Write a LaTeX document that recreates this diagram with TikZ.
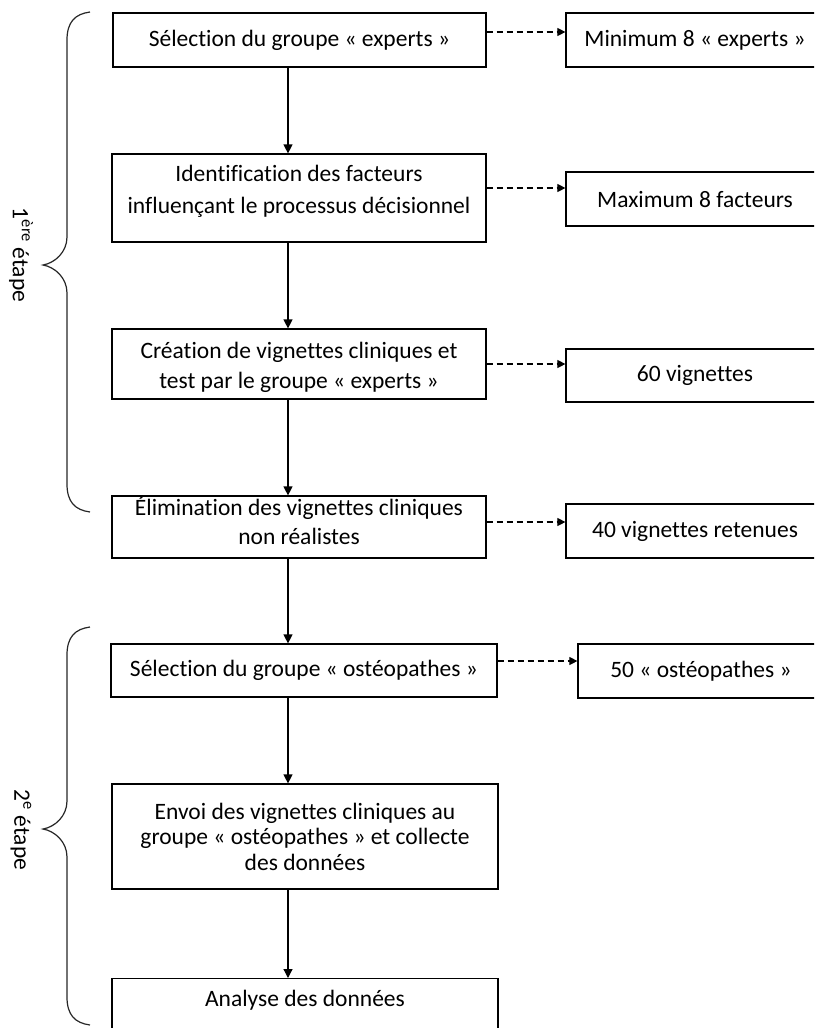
\documentclass[tikz,border=0pt]{standalone}
\usepackage{fontspec}
\setmainfont{Carlito}[Ligatures={NoCommon}]
\usetikzlibrary{arrows.meta}
\tikzset{
  box/.style={draw=black, line width=1.2pt, inner sep=2pt, align=center, text=black,
    font=\fontsize{23.5}{30}\selectfont},
  flow/.style={line width=1.2pt, -{Triangle[length=9pt,width=9pt]}},
  side/.style={line width=1.1pt, dash pattern=on 6pt off 4pt, -{Triangle[length=8pt,width=8pt]}},
  brace/.style={line width=1.2pt, draw=black!85},
  steplabel/.style={rotate=-90, font=\fontsize{23.5}{28}\selectfont, text=black}
}
\begin{document}
\begin{tikzpicture}[x=1pt,y=-1pt]
\useasboundingbox (0,0) rectangle (814,1028);
\clip (0,0) rectangle (814,1028);

% main column
\node[box, minimum width=373pt, minimum height=54pt] (b1) at (299.5,40) {Sélection du groupe « experts »};
\node[box, minimum width=374pt, minimum height=88pt, font=\fontsize{23.5}{32}\selectfont] (b2) at (299,198) {\raisebox{1pt}[32pt][32pt]{\begin{tabular}{@{}c@{}}Identification des facteurs\\influençant le processus décisionnel\end{tabular}}};
\node[box, minimum width=374pt, minimum height=70pt] (b3) at (299,364) {\raisebox{-10pt}[30pt][30pt]{\begin{tabular}{@{}c@{}}Création de vignettes cliniques et\\test par le groupe « experts »\end{tabular}}};
\node[box, minimum width=374pt, minimum height=60pt, font=\fontsize{23.5}{29}\selectfont] (b4) at (299,527) {\raisebox{-3.5pt}[29pt][29pt]{\begin{tabular}{@{}c@{}}Élimination des vignettes cliniques\\non réalistes\end{tabular}}};
\node[box, minimum width=386pt, minimum height=53pt] (b5) at (304,670.5) {Sélection du groupe « ostéopathes »};
\node[box, minimum width=386pt, minimum height=105pt, font=\fontsize{23.5}{25.5}\selectfont] (b6) at (305,836.5) {Envoi des vignettes cliniques au\\groupe « ostéopathes » et collecte\\des données};
\node[box, anchor=north, minimum width=386pt, inner ysep=10pt, text height=18pt, text depth=60pt] (b7) at (305,978) {Analyse des données};

% side column
\node[box, minimum width=258pt, minimum height=54pt] (ra) at (695,40) {Minimum 8 « experts »};
\node[box, minimum width=258pt, minimum height=54pt] (rb) at (695,199) {Maximum 8 facteurs};
\node[box, minimum width=258pt, minimum height=53pt] (rc) at (695,375.5) {60 vignettes};
\node[box, minimum width=258pt, minimum height=54pt] (rd) at (695,531) {40 vignettes retenues};
\node[box, minimum width=246pt, minimum height=54pt] (re) at (701,671) {50 « ostéopathes »};

% flow arrows
\coordinate (ax) at (288,0);
\draw[flow] (b1.south -| ax) -- (b2.north -| ax);
\draw[flow] (b2.south -| ax) -- (b3.north -| ax);
\draw[flow] (b3.south -| ax) -- (b4.north -| ax);
\draw[flow] (b4.south -| ax) -- (b5.north -| ax);
\draw[flow] (b5.south -| ax) -- (b6.north -| ax);
\draw[flow] (b6.south -| ax) -- (b7.north -| ax);

% dashed side arrows
\coordinate (d1) at (0,32);
\coordinate (d2) at (0,188);
\coordinate (d3) at (0,364);
\coordinate (d4) at (0,522);
\coordinate (d5) at (0,661);
\draw[side] (b1.east |- d1) -- (ra.west |- d1);
\draw[side] (b2.east |- d2) -- (rb.west |- d2);
\draw[side] (b3.east |- d3) -- (rc.west |- d3);
\draw[side] (b4.east |- d4) -- (rd.west |- d4);
\draw[side] (b5.east |- d5) -- (re.west |- d5);

% braces
\draw[brace] (90,12) .. controls (75,14) and (67,22) .. (67,40) -- (67,237)
  .. controls (67,252) and (55,263) .. (43,265)
  .. controls (55,267) and (67,278) .. (67,293) -- (67,484)
  .. controls (67,502) and (75,510) .. (90,512);
\draw[brace] (90,627) .. controls (75,629) and (67,637) .. (67,655) -- (67,801)
  .. controls (67,816) and (55,827) .. (43,829)
  .. controls (55,831) and (67,842) .. (67,857) -- (67,997)
  .. controls (67,1015) and (75,1023) .. (90,1025);

\node[steplabel] (s1) at (21,255) {1\textsuperscript{ère} étape};
\node[steplabel] (s2) at (21,830) {2\textsuperscript{e} étape};
\end{tikzpicture}
\end{document}
